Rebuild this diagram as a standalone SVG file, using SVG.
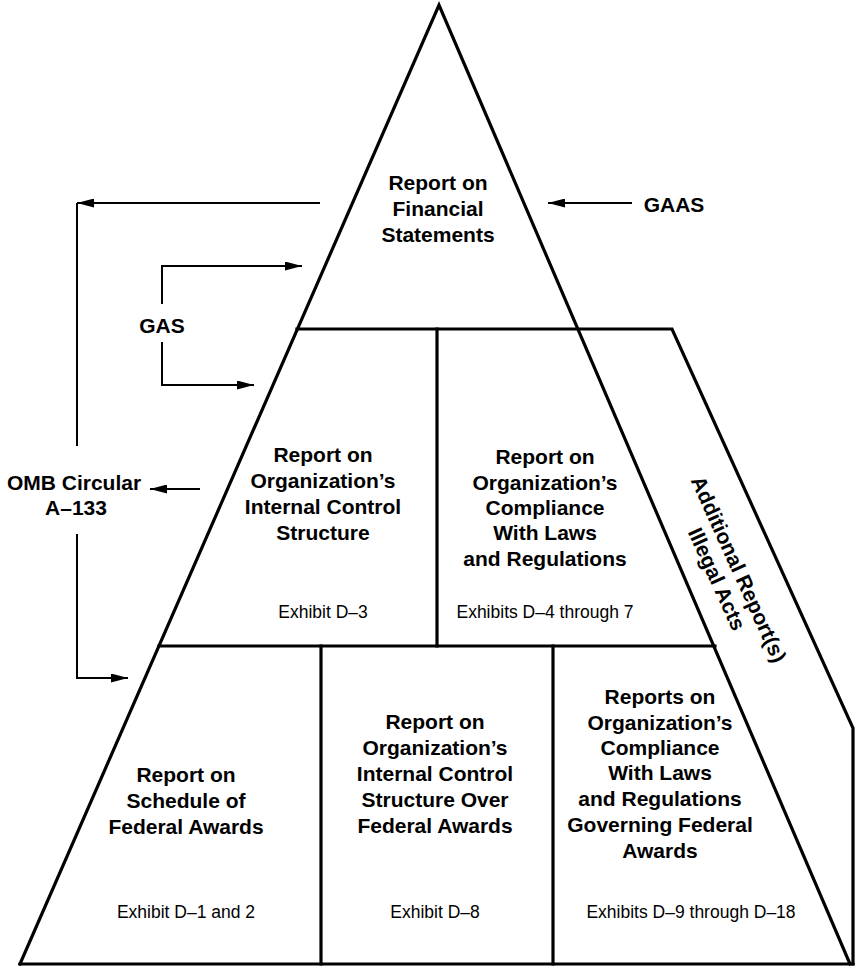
<svg xmlns="http://www.w3.org/2000/svg" width="855" height="966" viewBox="0 0 855 966">
<style>
.frame{fill:none;stroke:#000;stroke-width:3.2;stroke-linejoin:miter;stroke-linecap:square}
.conn{fill:none;stroke:#000;stroke-width:2}
.b{font-family:"Liberation Sans",Arial,Helvetica,sans-serif;font-weight:bold;font-size:21px;text-anchor:middle;fill:#000}
.r{font-family:"Liberation Sans",Arial,Helvetica,sans-serif;font-size:17.5px;text-anchor:middle;fill:#000}
</style>
<defs>
<marker id="ah" viewBox="0 0 17 9" refX="17" refY="4.5" markerWidth="17" markerHeight="9" markerUnits="userSpaceOnUse" orient="auto">
<path d="M0,0 L17,4.5 L0,9 z" fill="#000"/>
</marker>
</defs>
<rect width="855" height="966" fill="#fff"/>
<g id="frame">
<path class="frame" d="M20,964 L439,5 L850,964"/>
<path class="frame" d="M20,964 H853"/>
<path class="frame" d="M297,329 H672 L853,728 V964"/>
<path class="frame" d="M159,646 H715"/>
<path class="frame" d="M437,329 V646"/>
<path class="frame" d="M321,646 V964"/>
<path class="frame" d="M553,646 V964"/>
</g>
<g id="connectors">
<path class="conn" d="M632,203 H548" marker-end="url(#ah)"/>
<path class="conn" d="M320,203 H77" marker-end="url(#ah)"/>
<path class="conn" d="M77,203 V446"/>
<path class="conn" d="M77,534 V678 H128" marker-end="url(#ah)"/>
<path class="conn" d="M200,489 H150" marker-end="url(#ah)"/>
<path class="conn" d="M162,304 V266 H302" marker-end="url(#ah)"/>
<path class="conn" d="M162,342 V385 H254" marker-end="url(#ah)"/>
</g>
<g id="label-gaas"><text class="b" x="674" y="212">GAAS</text></g>
<g id="label-gas"><text class="b" x="162" y="333">GAS</text></g>
<g id="label-omb"><text class="b" x="74" y="490">OMB Circular</text><text class="b" x="76" y="515">A–133</text></g>
<g id="node-financial">
<text class="b" x="438" y="190">Report on</text>
<text class="b" x="438" y="216">Financial</text>
<text class="b" x="438" y="242">Statements</text>
</g>
<g id="node-internal-control">
<text class="b" x="323" y="462">Report on</text>
<text class="b" x="323" y="488">Organization’s</text>
<text class="b" x="323" y="514">Internal Control</text>
<text class="b" x="323" y="540">Structure</text>
<text class="r" x="323" y="618">Exhibit D–3</text>
</g>
<g id="node-compliance">
<text class="b" x="545" y="464">Report on</text>
<text class="b" x="545" y="490">Organization’s</text>
<text class="b" x="545" y="515">Compliance</text>
<text class="b" x="545" y="540">With Laws</text>
<text class="b" x="545" y="566">and Regulations</text>
<text class="r" x="545" y="618">Exhibits D–4 through 7</text>
</g>
<g id="node-illegal-acts" transform="translate(728,574) rotate(65.6)">
<text class="b" x="0" y="-4.5">Additional Report(s)</text>
<text class="b" x="0" y="19.5">Illegal Acts</text>
</g>
<g id="node-schedule">
<text class="b" x="186" y="782">Report on</text>
<text class="b" x="186" y="808">Schedule of</text>
<text class="b" x="186" y="834">Federal Awards</text>
<text class="r" x="186" y="918">Exhibit D–1 and 2</text>
</g>
<g id="node-internal-federal">
<text class="b" x="435" y="729">Report on</text>
<text class="b" x="435" y="755">Organization’s</text>
<text class="b" x="435" y="781">Internal Control</text>
<text class="b" x="435" y="807">Structure Over</text>
<text class="b" x="435" y="833">Federal Awards</text>
<text class="r" x="435" y="918">Exhibit D–8</text>
</g>
<g id="node-compliance-federal">
<text class="b" x="660" y="704">Reports on</text>
<text class="b" x="660" y="730">Organization’s</text>
<text class="b" x="660" y="755">Compliance</text>
<text class="b" x="660" y="780">With Laws</text>
<text class="b" x="660" y="806">and Regulations</text>
<text class="b" x="660" y="832">Governing Federal</text>
<text class="b" x="660" y="858">Awards</text>
<text class="r" x="691" y="918">Exhibits D–9 through D–18</text>
</g>
</svg>
